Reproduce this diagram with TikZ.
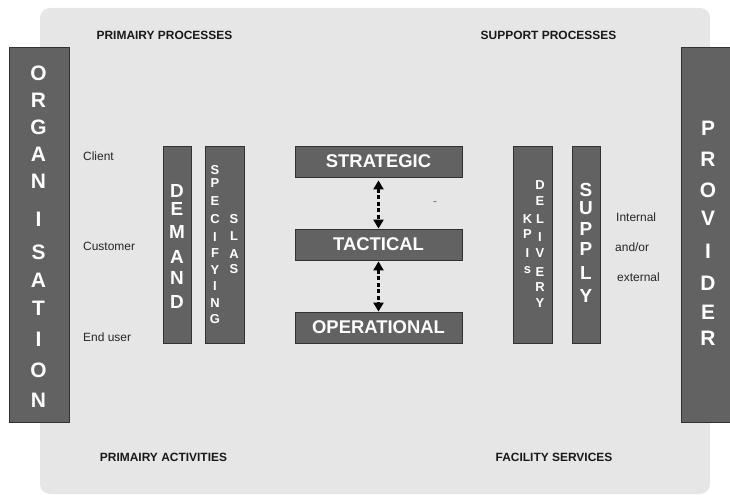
\documentclass[tikz,border=0pt]{standalone}
\usepackage{fontspec}
\setmainfont{Liberation Sans}
\usetikzlibrary{arrows.meta}
\definecolor{panelgray}{RGB}{230,230,230}
\definecolor{boxgray}{RGB}{98,98,98}
\definecolor{boxline}{RGB}{50,50,50}
\tikzset{
  darkbox/.style={fill=boxgray, draw=boxline, line width=0.8bp},
  letter/.style={text=white, font=\bfseries\fontsize{#1}{#1}\selectfont, inner sep=0pt, anchor=center},
  header/.style={font=\bfseries\fontsize{12}{14}\selectfont, text=black!90, inner sep=0pt},
  sidelabel/.style={font=\fontsize{12}{14}\selectfont, text=black!85, inner sep=0pt, anchor=west},
  levelbox/.style={darkbox, minimum width=167bp, minimum height=31bp, inner sep=0pt,
     text=white, font=\bfseries\fontsize{18.5}{20}\selectfont},
  dasharrow/.style={line width=2.2bp, dash pattern=on 4bp off 2.5bp,
     {Triangle[width=10bp,length=9bp]}-{Triangle[width=10bp,length=9bp]}}
}
\begin{document}
\begin{tikzpicture}[x=1bp,y=-1bp]
\useasboundingbox (0,0) rectangle (730,495);
% panel
\fill[panelgray, rounded corners=10bp] (40,8) rectangle (710,494);
% headers
\node[header] (hpp) at (164.5,35) {PRIMAIRY PROCESSES};
\node[header] (hsp) at (548.5,35) {SUPPORT PROCESSES};
\node[header] (hpa) at (163.5,457) {PRIMAIRY ACTIVITIES};
\node[header] (hfs) at (554,457) {FACILITY SERVICES};
% organisation
\path[darkbox] (9,47) rectangle (69,422);
\foreach \l/\y [count=\i] in {O/73,R/100,G/127,A/154,N/181,I/219,S/252,A/280,T/308,I/339,O/370,N/400}
  \node[letter=21] (org\i) at (38.5,\y) {\l};
% provider
\path[darkbox] (681,47) rectangle (741,422);
\foreach \l/\y [count=\i] in {P/128,R/159,O/190,V/218,I/251,D/283,E/312,R/338}
  \node[letter=21] (prov\i) at (708,\y) {\l};
% demand
\path[darkbox] (163,146) rectangle (191,343);
\foreach \l/\y [count=\i] in {D/191,E/209,M/232,A/257,N/278,D/302}
  \node[letter=19] (dem\i) at (177,\y) {\l};
% specifying slas
\path[darkbox] (205,146) rectangle (244,343);
\foreach \l/\y [count=\i] in {S/170,P/183,E/201,C/219,I/237,F/253,Y/270,I/286,N/303,G/319}
  \node[letter=13] (spec\i) at (215,\y) {\l};
\foreach \l/\y [count=\i] in {S/219,L/236,A/254,S/269}
  \node[letter=13] (sla\i) at (234,\y) {\l};
% kpis delivery
\path[darkbox] (513,146) rectangle (552,343);
\foreach \l/\y [count=\i] in {K/219,P/234,I/253,s/270}
  \node[letter=13] (kpi\i) at (527.5,\y) {\l};
\foreach \l/\y [count=\i] in {D/185,E/201,L/219,I/237,V/253,E/272,R/287,Y/303}
  \node[letter=13] (del\i) at (540,\y) {\l};
% supply
\path[darkbox] (572,146) rectangle (600,343);
\foreach \l/\y [count=\i] in {S/190,U/208,P/229,P/249,L/273,Y/296}
  \node[letter=19] (sup\i) at (586,\y) {\l};
% levels
\node[levelbox] (strategic) at (378.5,161.5) {STRATEGIC};
\node[levelbox] (tactical) at (378.5,244.5) {TACTICAL};
\node[levelbox] (operational) at (378.5,327.5) {OPERATIONAL};
\draw[dasharrow, shorten <=3bp] (strategic.south) -- (tactical.north);
\draw[dasharrow, shorten <=1bp] (tactical.south) -- (operational.north);
\node[text=black!50, font=\fontsize{13}{13}\selectfont, inner sep=0pt] (dash) at (435,204) {-};
% side labels
\node[sidelabel] (client) at (83,156) {Client};
\node[sidelabel] (customer) at (83,246) {Customer};
\node[sidelabel] (enduser) at (83,337) {End user};
\node[sidelabel] (internal) at (616,217) {Internal};
\node[sidelabel] (andor) at (615,247) {and/or};
\node[sidelabel] (external) at (617,277) {external};
\end{tikzpicture}
\end{document}
